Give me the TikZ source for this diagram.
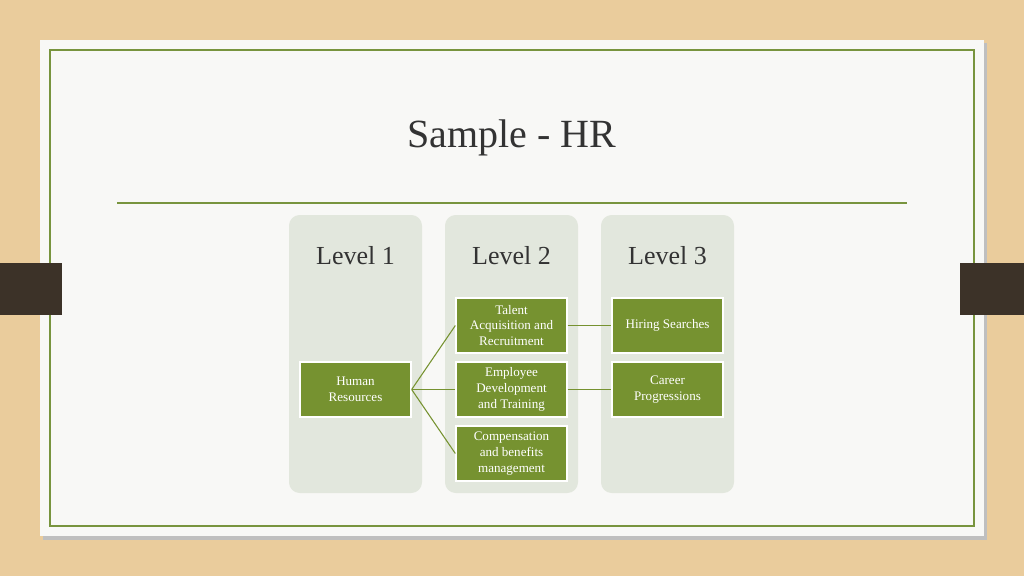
\documentclass[tikz,border=0pt]{standalone}
\usepackage{fontspec}
\setmainfont{Liberation Serif}
\begin{document}
\begin{tikzpicture}[x=0.75pt,y=-0.75pt,
  col/.style={draw=none,fill=colbg,rounded corners=8pt},
  gbox/.style={draw=white,line width=1pt,fill=boxgreen,text=white,minimum width=83.25pt,minimum height=41.25pt,align=center,font=\fontsize{9.8}{11.8}\selectfont,inner sep=1pt},
  hdr/.style={font=\fontsize{19.5}{22}\selectfont,text=black!80},
  conn/.style={draw=boxgreen,line width=0.8pt}]
\definecolor{wood}{RGB}{234,204,156}
\definecolor{slide}{RGB}{248,248,246}
\definecolor{olive}{RGB}{120,148,62}
\definecolor{colbg}{RGB}{226,231,221}
\definecolor{boxgreen}{RGB}{118,146,48}
\definecolor{tab}{RGB}{60,50,40}
\fill[wood] (0,0) rectangle (1024,576);
\useasboundingbox (0,0) rectangle (1024,576);
\fill[black!25] (43,43) rectangle (987,540);
\fill[slide] (40,40) rectangle (984,536);
\draw[olive,line width=0.9pt] (50,50) rectangle (974,526);
\fill[tab] (0,263) rectangle (62,315);
\fill[tab] (960,263) rectangle (1024,315);
\node[font=\fontsize{30}{34}\selectfont,text=black!80] (title) at (512,138) {Sample - HR};
\draw[olive,line width=0.9pt] (117,203) -- (907,203);
\fill[col] (289,215) rectangle (422,493);
\fill[col] (445,215) rectangle (578,493);
\fill[col] (601,215) rectangle (734,493);
\node[hdr] (h1) at (355.5,256) {Level 1};
\node[hdr] (h2) at (511.5,256) {Level 2};
\node[hdr] (h3) at (667.5,256) {Level 3};
\node[gbox] (hr) at (355.5,389.5) {Human\\Resources};
\node[gbox] (t) at (511.5,325.5) {Talent\\Acquisition and\\Recruitment};
\node[gbox] (e) at (511.5,389.5) {Employee\\Development\\and Training};
\node[gbox] (c) at (511.5,453.5) {Compensation\\and benefits\\management};
\node[gbox] (hs) at (667.5,325.5) {Hiring Searches};
\node[gbox] (cp) at (667.5,389.5) {Career\\Progressions};
\draw[conn] (hr.east) -- (t.west);
\draw[conn] (hr.east) -- (e.west);
\draw[conn] (hr.east) -- (c.west);
\draw[conn] (t.east) -- (hs.west);
\draw[conn] (e.east) -- (cp.west);
\end{tikzpicture}
\end{document}
